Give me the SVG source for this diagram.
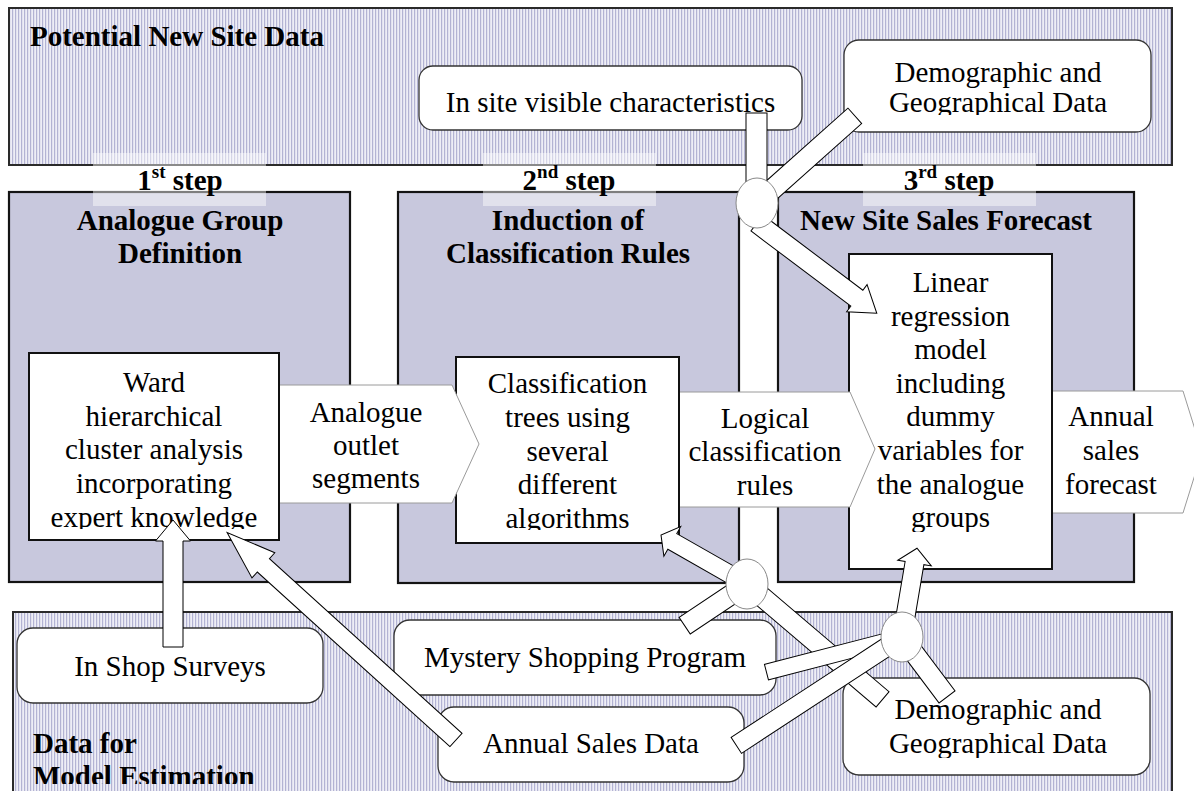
<svg xmlns="http://www.w3.org/2000/svg" width="1194" height="791" viewBox="0 0 1194 791">
<defs>
  <pattern id="stripes" width="3" height="8" patternUnits="userSpaceOnUse">
    <rect width="3" height="8" fill="#eeeef6"/>
    <rect width="1.2" height="8" fill="#b3b3d3"/>
  </pattern>
  <clipPath id="clipWard"><rect x="29" y="353" width="250" height="176"/></clipPath>
  <clipPath id="clipClass"><rect x="456" y="357" width="223" height="173"/></clipPath>
  <clipPath id="clipLin"><rect x="849" y="254" width="203" height="278"/></clipPath>
  <clipPath id="clipTopDemo"><rect x="844" y="40" width="307" height="75"/></clipPath>
  <clipPath id="clipBotDemo"><rect x="843" y="678" width="307" height="80"/></clipPath>
  <clipPath id="clipEst"><rect x="13" y="612" width="400" height="172"/></clipPath>
</defs>
<style>
  text{font-family:"Liberation Serif","Times New Roman",serif;font-size:29px;fill:#000}
  .t{text-anchor:middle}
  .b{font-weight:bold}
  .band{fill:url(#stripes);stroke:#2a2a2a;stroke-width:2}
  .step{fill:#c8c8dd;stroke:#141414;stroke-width:2.2}
  .veil{fill:#fff;fill-opacity:0.45}
  .proc{fill:#fff;stroke:#111;stroke-width:2}
  .flow{fill:#fff;stroke:#9a9a9a;stroke-width:1}
  .src{fill:#fff;stroke:#333;stroke-width:1.3}
  .conn{fill:#fff;stroke:#000;stroke-width:1}
  .hub{fill:#fff;stroke:#888;stroke-width:1}
</style>

<rect width="1194" height="791" fill="#fff"/>

<!-- data bands -->
<g id="band-potential">
  <rect class="band" x="9" y="8" width="1163" height="157"/>
  <text class="b" x="30" y="46">Potential New Site Data</text>
</g>
<g id="band-estimation">
  <rect class="band" x="13" y="612" width="1159" height="200"/>
  <text class="b" clip-path="url(#clipEst)"><tspan x="33" y="753">Data for</tspan><tspan x="33" y="786">Model Estimation</tspan></text>
</g>

<!-- step panels -->
<g id="step1">
  <rect class="step" x="9" y="192" width="341" height="390"/>
  <text class="b t" x="180" y="230">Analogue Group</text>
  <text class="b t" x="180" y="263">Definition</text>
  <rect class="veil" x="93" y="153" width="173" height="53"/>
  <text class="b t" x="180" y="190">1<tspan font-size="19" dy="-12">st</tspan><tspan dy="12"> step</tspan></text>
</g>
<g id="step2">
  <rect class="step" x="398" y="192" width="341" height="391"/>
  <text class="b t" x="568" y="230">Induction of</text>
  <text class="b t" x="568" y="263">Classification Rules</text>
  <rect class="veil" x="483" y="153" width="173" height="53"/>
  <text class="b t" x="569" y="190">2<tspan font-size="19" dy="-12">nd</tspan><tspan dy="12"> step</tspan></text>
</g>
<g id="step3">
  <rect class="step" x="778" y="192" width="356" height="390"/>
  <text class="b t" x="946" y="230">New Site Sales Forecast</text>
  <rect class="veil" x="863" y="153" width="173" height="53"/>
  <text class="b t" x="949" y="190">3<tspan font-size="19" dy="-12">rd</tspan><tspan dy="12"> step</tspan></text>
</g>

<!-- process chain: outputs drawn beneath the box they leave -->
<g id="out-forecast">
  <polygon class="flow" points="1045,391 1183,391 1202,452 1183,513 1045,513"/>
  <text class="t" x="1111" y="426">Annual</text>
  <text class="t" x="1111" y="460">sales</text>
  <text class="t" x="1111" y="494">forecast</text>
</g>
<g id="proc-regression">
  <rect class="proc" x="849" y="254" width="203" height="315"/>
  <g clip-path="url(#clipLin)">
    <text class="t" x="950.5" y="292">Linear</text>
    <text class="t" x="950.5" y="325.6">regression</text>
    <text class="t" x="950.5" y="359.2">model</text>
    <text class="t" x="950.5" y="392.8">including</text>
    <text class="t" x="950.5" y="426.4">dummy</text>
    <text class="t" x="950.5" y="460">variables for</text>
    <text class="t" x="950.5" y="493.6">the analogue</text>
    <text class="t" x="950.5" y="527.2">groups</text>
  </g>
</g>
<g id="out-rules">
  <polygon class="flow" points="670,392 850,392 875,449 850,507 670,507"/>
  <text class="t" x="765" y="427.5">Logical</text>
  <text class="t" x="765" y="461">classification</text>
  <text class="t" x="765" y="494.5">rules</text>
</g>
<g id="proc-trees">
  <rect class="proc" x="456" y="357" width="223" height="186"/>
  <g clip-path="url(#clipClass)">
    <text class="t" x="567.5" y="393.3">Classification</text>
    <text class="t" x="567.5" y="427">trees using</text>
    <text class="t" x="567.5" y="460.7">several</text>
    <text class="t" x="567.5" y="494.4">different</text>
    <text class="t" x="567.5" y="528">algorithms</text>
  </g>
</g>
<g id="out-segments">
  <polygon class="flow" points="270,385 452,385 479,444 452,503 270,503"/>
  <text class="t" x="366" y="421.7">Analogue</text>
  <text class="t" x="366" y="455">outlet</text>
  <text class="t" x="366" y="488.3">segments</text>
</g>
<g id="proc-ward">
  <rect class="proc" x="29" y="353" width="250" height="187"/>
  <g clip-path="url(#clipWard)">
    <text class="t" x="154" y="392">Ward</text>
    <text class="t" x="154" y="425.7">hierarchical</text>
    <text class="t" x="154" y="459.4">cluster analysis</text>
    <text class="t" x="154" y="493.1">incorporating</text>
    <text class="t" x="154" y="526.8">expert knowledge</text>
  </g>
</g>

<!-- data sources -->
<g id="src-visible">
  <rect class="src" x="419" y="66" width="383" height="64" rx="14"/>
  <text class="t" x="610.5" y="112">In site visible characteristics</text>
</g>
<g id="src-demo-top">
  <rect class="src" x="844" y="40" width="307" height="92" rx="15"/>
  <g clip-path="url(#clipTopDemo)">
    <text class="t" x="998" y="82">Demographic and</text>
    <text class="t" x="998" y="112">Geographical Data</text>
  </g>
</g>
<g id="src-surveys">
  <rect class="src" x="17" y="628" width="306" height="75" rx="16"/>
  <text class="t" x="170" y="676">In Shop Surveys</text>
</g>
<g id="src-mystery">
  <rect class="src" x="394" y="620" width="382" height="75" rx="16"/>
  <text class="t" x="585" y="667">Mystery Shopping Program</text>
</g>
<g id="src-sales">
  <rect class="src" x="438" y="707" width="306" height="75" rx="16"/>
  <text class="t" x="591" y="753">Annual Sales Data</text>
</g>
<g id="src-demo-bottom">
  <rect class="src" x="843" y="678" width="307" height="97" rx="16"/>
  <g clip-path="url(#clipBotDemo)">
    <text class="t" x="998" y="719">Demographic and</text>
    <text class="t" x="998" y="753">Geographical Data</text>
  </g>
</g>

<!-- connectors: block arrows, feed bars and junction hubs -->
<g id="connectors">
  <!-- surveys -> ward -->
  <polygon class="conn" points="0,-10 106,-10 106,-17.5 127,0 106,17.5 106,10 0,10" transform="translate(173,647) rotate(-90)"/>
  <!-- sales -> ward -->
  <polygon class="conn" points="0,-9 260,-9 260,-17 309,0 260,17 260,9 0,9" transform="translate(456,740) rotate(-137.8)"/>

  <!-- lower-left hub -->
  <rect class="conn" x="0" y="-10" width="178" height="20" transform="translate(747,584) rotate(40.4)"/>
  <rect class="conn" x="0" y="-10" width="75" height="20" transform="translate(747,584) rotate(146.2)"/>
  <polygon class="conn" points="0,-9 86,-9 86,-17 99,0 86,17 86,9 0,9" transform="translate(747,584) rotate(209.7)"/>

  <!-- lower-right hub -->
  <rect class="conn" x="0" y="-8" width="140" height="16" transform="translate(902,637) rotate(165.5)"/>
  <rect class="conn" x="0" y="-9.5" width="198" height="19" transform="translate(902,637) rotate(146.8)"/>
  <rect class="conn" x="0" y="-10" width="75" height="20" transform="translate(902,637) rotate(53.1)"/>
  <polygon class="conn" points="0,-9.5 75,-9.5 75,-17 90,0 75,17 75,9.5 0,9.5" transform="translate(902,637) rotate(-80.4)"/>

  <ellipse class="hub" cx="747" cy="584" rx="21" ry="25"/>
  <ellipse class="hub" cx="902" cy="637" rx="21" ry="25"/>

  <!-- upper hub -->
  <rect class="conn" x="746" y="113" width="21" height="90"/>
  <rect class="conn" x="0" y="-10.3" width="131" height="20.6" transform="translate(757,203) rotate(-41.7)"/>
  <polygon class="conn" points="0,-10 125,-10 125,-17 150,0 125,17 125,10 0,10" transform="translate(757,223) rotate(37)"/>
  <ellipse class="hub" cx="757" cy="203" rx="21" ry="25"/>
</g>
</svg>
